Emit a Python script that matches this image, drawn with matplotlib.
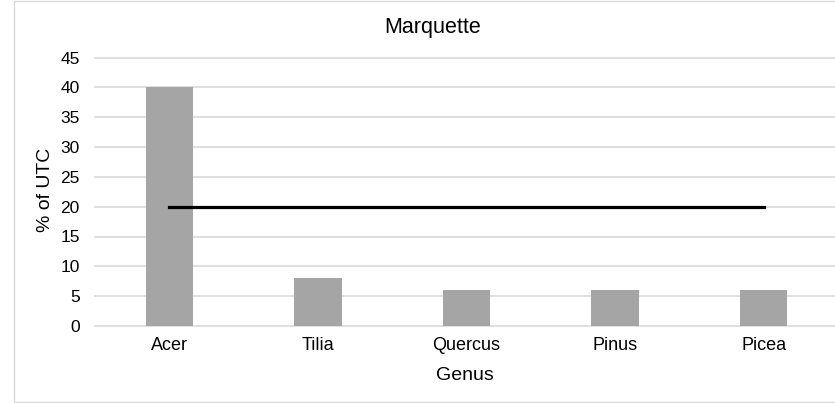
import matplotlib
matplotlib.use("Agg")
import matplotlib.pyplot as plt
from matplotlib.patches import Rectangle

categories = ["Acer", "Tilia", "Quercus", "Pinus", "Picea"]
values = [40, 8, 6, 6, 6]
threshold = [20, 20, 20, 20, 20]
yticks = [0, 5, 10, 15, 20, 25, 30, 35, 40, 45]

plt.rcParams['font.family'] = ['Liberation Sans', 'DejaVu Sans']

W, H = 835, 403
fig = plt.figure(figsize=(W/100, H/100), dpi=100)
fig.patches.append(Rectangle((14/W, 1/H), 1.2, 1 - 1.5/H, transform=fig.transFigure,
                             fill=False, edgecolor='#d9d9d9', linewidth=1))

ax = fig.add_axes([95/W, 1 - 326/H, (838-95)/W, (326-57.5)/H])
x = list(range(len(categories)))
ax.bar(x, values, width=0.32, color='#a5a5a5', zorder=2)
ax.plot(x, threshold, color='black', linewidth=2.3, zorder=3)
ax.set_xlim(-0.5, 4.5)
ax.set_ylim(0, 45)
ax.set_yticks(yticks)
ax.set_xticks(x)
ax.set_xticklabels(categories)
ax.grid(axis='y', color='#d9d9d9', linewidth=1.2, zorder=0)
for gl in ax.get_ygridlines():
    gl.set_clip_on(False)
for s in ax.spines.values():
    s.set_visible(False)
ax.tick_params(length=0, labelsize=12.5, colors='black')
ax.tick_params(axis='y', pad=11)
ax.tick_params(axis='x', labelsize=13, pad=8)

fig.text(433/W, 1 - 27/H, "Marquette", ha='center', va='center', fontsize=15.5)
fig.text(465/W, 1 - 375/H, "Genus", ha='center', va='center', fontsize=14)
fig.text(45/W, 1 - 190/H, "% of UTC", ha='center', va='center', fontsize=14, rotation=90)

fig.savefig("out.png", dpi=100)
